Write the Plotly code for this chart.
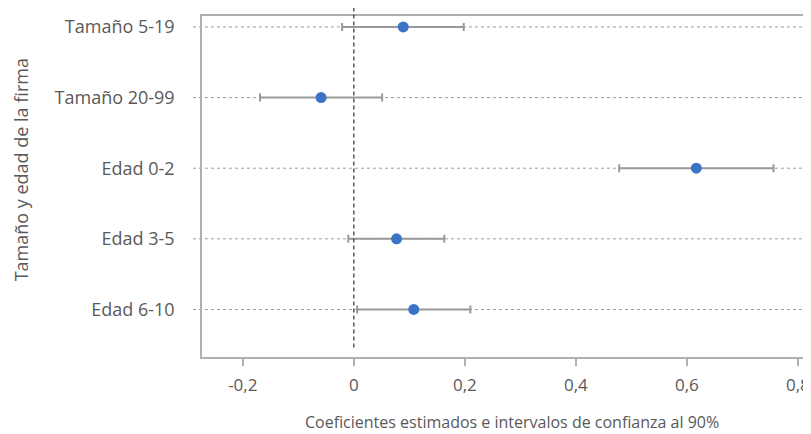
import plotly.graph_objects as go

categories = ["Tamaño 5-19", "Tamaño 20-99", "Edad 0-2", "Edad 3-5", "Edad 6-10"]
coef = [0.089, -0.059, 0.617, 0.077, 0.108]
ci_low = [-0.021, -0.169, 0.478, -0.010, 0.006]
ci_high = [0.198, 0.051, 0.756, 0.163, 0.210]
x_ticks = [-0.2, 0, 0.2, 0.4, 0.6, 0.8]
x_ticklabels = ["-0,2", "0", "0,2", "0,4", "0,6", "0,8"]

ypos = list(range(len(categories)))
FONT = "Open Sans"
TXT = "#595959"

fig = go.Figure()
fig.add_trace(go.Scatter(
    x=coef, y=ypos, mode="markers",
    marker=dict(color="#3b74c6", size=11),
    error_x=dict(type="data", symmetric=False,
                 array=[h - c for h, c in zip(ci_high, coef)],
                 arrayminus=[c - l for c, l in zip(coef, ci_low)],
                 color="#999999", thickness=2, width=4),
    showlegend=False, cliponaxis=False,
))

shapes = []
for y in ypos:
    shapes.append(dict(type="line", xref="paper", yref="y", x0=-0.015, x1=1, y0=y, y1=y,
                       line=dict(color="#9a9a9a", width=1, dash="3px,3px"), layer="below"))
shapes.append(dict(type="line", xref="x", yref="paper", x0=0, x1=0, y0=0.028, y1=1.0255,
                   line=dict(color="#404040", width=1.3, dash="4px,3px")))

fig.update_layout(
    width=811, height=434,
    margin=dict(l=194, r=10, t=8, b=85),
    paper_bgcolor="white", plot_bgcolor="white",
    font=dict(family=FONT, color=TXT, size=18),
    shapes=shapes,
    xaxis=dict(range=[-0.2735, 0.820], tickvals=x_ticks, ticktext=x_ticklabels,
               showgrid=False, zeroline=False, showline=True, linecolor="#b0b0b0", linewidth=1.5,
               mirror=True, ticks="outside", ticklen=7, tickcolor="#b0b0b0", tickwidth=1.5,
               automargin=False, ticklabelstandoff=5,
               tickfont=dict(size=17, color=TXT, family=FONT)),
    yaxis=dict(range=[4.673, -0.155], tickvals=ypos, ticktext=categories,
               showgrid=False, zeroline=False, showline=True, linecolor="#b0b0b0", linewidth=1.5,
               mirror=True, ticks="", ticklabelstandoff=22, automargin=False,
               tickfont=dict(size=18, color=TXT, family=FONT)),
    annotations=[
        dict(text="Tamaño y edad de la firma", textangle=-90, xref="paper", yref="paper",
             x=-0.2967, y=0.550, xanchor="center", yanchor="middle", showarrow=False,
             font=dict(size=18, color=TXT, family=FONT)),
        dict(text="Coeficientes estimados e intervalos de confianza al 90%", xref="paper", yref="paper",
             x=0.51, y=-0.192, xanchor="center", yanchor="middle", showarrow=False,
             font=dict(size=16, color=TXT, family=FONT)),
    ],
)

fig.write_html("out.html")
